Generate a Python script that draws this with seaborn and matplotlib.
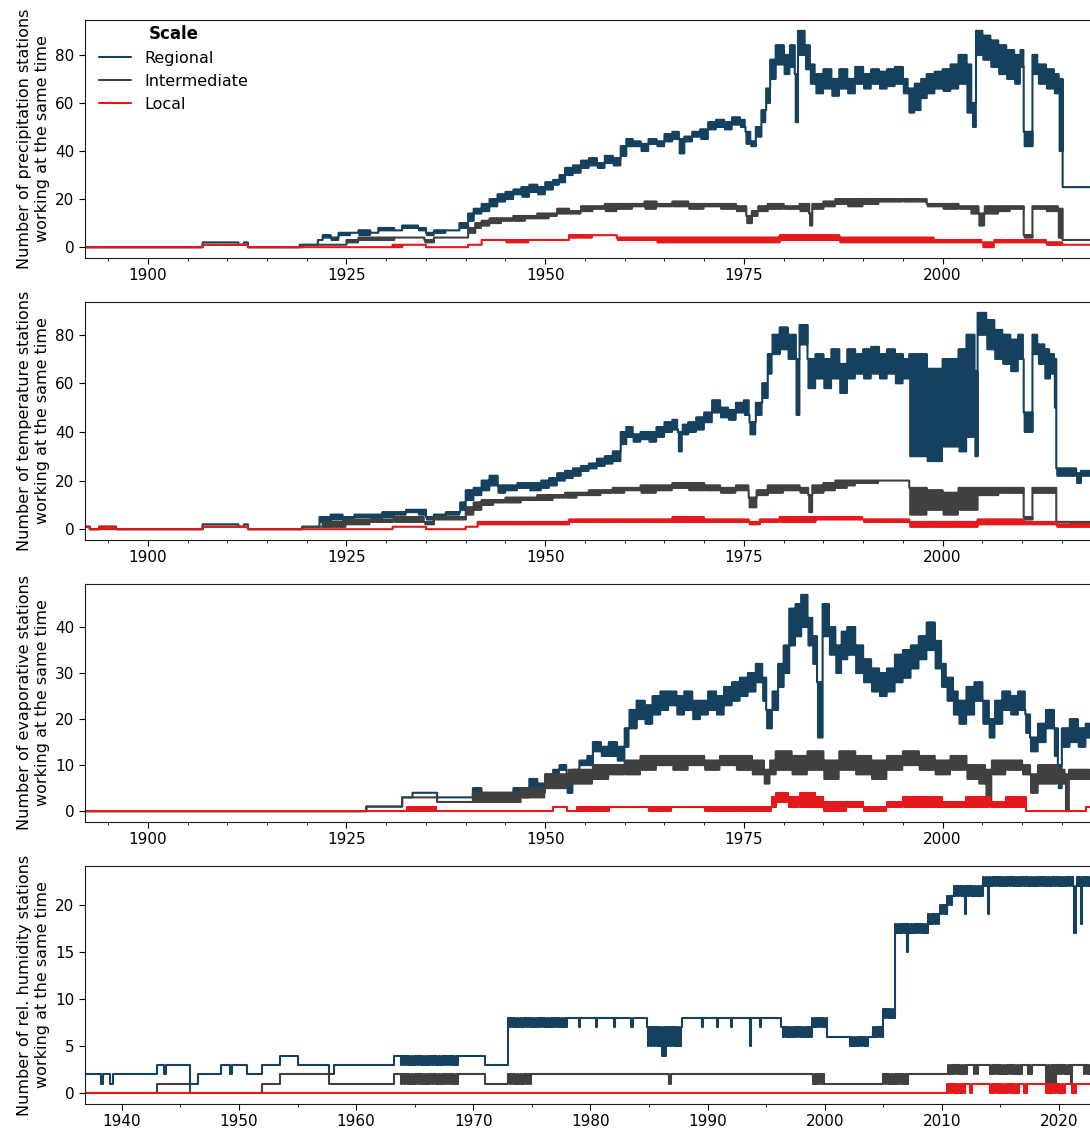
import numpy as np
import pandas as pd
import seaborn as sns
import matplotlib.pyplot as plt
from matplotlib.ticker import MultipleLocator, FormatStrFormatter

# station counts: (start year, low, high) valid until the next start year
# (low != high where the daily count jumps up and down inside the span)
scales = ["Regional", "Intermediate", "Local"]
colors = ["#15415f", "#404040", "#e3191c"]

p_reg = [(1892.1, 0, 0), (1906.9, 2, 2), (1911.4, 1, 1), (1912.1, 2, 2), (1912.6, 0, 0), (1919.1, 1, 1),
         (1921.4, 3, 3), (1922.0, 4, 5), (1923.0, 3, 4), (1924.0, 5, 6), (1925.5, 6, 6), (1926.5, 5, 7),
         (1928.0, 6, 6), (1929.0, 7, 8), (1931.0, 7, 7), (1932.0, 8, 9), (1934.0, 7, 8), (1935.0, 5, 6),
         (1936.0, 6, 7), (1937.5, 7, 7), (1939.2, 8, 10), (1940.3, 11, 14), (1941.0, 14, 16),
         (1942.0, 15, 18), (1943.0, 17, 20), (1944.0, 19, 22), (1945.0, 20, 23), (1946.0, 22, 24),
         (1947.0, 21, 25), (1948.0, 23, 26), (1949.0, 22, 25), (1950.0, 24, 27), (1951.0, 26, 28),
         (1951.8, 27, 30), (1952.5, 30, 33), (1953.5, 31, 34), (1954.5, 33, 36), (1955.5, 34, 37),
         (1956.5, 33, 35), (1957.5, 35, 38), (1958.5, 34, 37), (1959.5, 38, 42), (1960.2, 42, 45),
         (1961.0, 42, 44), (1962.0, 40, 43), (1963.0, 43, 45), (1964.0, 42, 44), (1965.0, 44, 47),
         (1966.0, 45, 48), (1966.8, 39, 45), (1967.5, 44, 46), (1968.5, 46, 48), (1969.5, 45, 49),
         (1970.5, 49, 52), (1971.5, 50, 53), (1972.5, 49, 52), (1973.5, 51, 54), (1974.5, 50, 53),
         (1975.2, 43, 48), (1975.8, 42, 44), (1976.5, 46, 50), (1977.2, 52, 57), (1977.8, 60, 66),
         (1978.3, 70, 78), (1979.0, 76, 84), (1980.0, 72, 80), (1980.8, 75, 84), (1981.4, 52, 72),
         (1981.8, 80, 90), (1982.7, 74, 84), (1983.3, 68, 76), (1984.0, 64, 72), (1985.0, 66, 74),
         (1986.0, 63, 70), (1987.0, 66, 74), (1988.0, 64, 70), (1989.0, 68, 75), (1990.0, 66, 72),
         (1991.0, 68, 74), (1992.0, 66, 73), (1993.0, 67, 74), (1994.0, 68, 75), (1995.0, 64, 70),
         (1995.7, 56, 66), (1996.5, 57, 68), (1997.3, 62, 70), (1998.0, 64, 72), (1999.0, 66, 73),
         (2000.0, 65, 74), (2001.0, 66, 76), (2002.0, 68, 80), (2003.0, 56, 76), (2003.7, 50, 60),
         (2004.2, 80, 90), (2005.0, 78, 88), (2006.0, 75, 86), (2007.0, 72, 84), (2008.0, 70, 82),
         (2009.0, 68, 80), (2009.8, 75, 82), (2010.2, 42, 48), (2011.3, 72, 80), (2012.0, 68, 76),
         (2013.0, 66, 74), (2014.0, 64, 72), (2014.6, 40, 70), (2015.1, 25, 25)]
p_inter = [(1892.1, 0, 0), (1906.9, 1, 1), (1912.6, 0, 0), (1919.5, 1, 1), (1925.0, 2, 3), (1926.5, 3, 4),
           (1931.0, 4, 4), (1934.8, 2, 3), (1936.0, 4, 4), (1940.3, 6, 8), (1941.2, 8, 10), (1942.0, 9, 11),
           (1943.0, 10, 12), (1944.5, 11, 12), (1946.0, 11, 13), (1947.5, 12, 13), (1949.0, 12, 14),
           (1950.5, 13, 14), (1951.5, 14, 16), (1953.0, 14, 15), (1954.5, 15, 17), (1956.0, 16, 17),
           (1957.5, 15, 18), (1959.0, 16, 18), (1961.0, 17, 18), (1962.5, 16, 19), (1964.0, 17, 18),
           (1966.0, 17, 19), (1968.0, 16, 18), (1970.0, 17, 18), (1972.0, 16, 18), (1974.0, 15, 17),
           (1975.3, 10, 13), (1976.0, 13, 15), (1976.8, 15, 17), (1978.0, 16, 18), (1980.0, 16, 17),
           (1982.0, 15, 18), (1983.2, 9, 14), (1983.6, 16, 18), (1985.0, 17, 19), (1986.5, 18, 20),
           (1988.0, 17, 20), (1990.0, 18, 20), (1992.0, 19, 20), (1995.0, 19, 20), (1998.0, 17, 18),
           (2000.0, 16, 18), (2002.0, 16, 17), (2003.5, 14, 17), (2004.5, 9, 14), (2005.3, 14, 17),
           (2007.0, 15, 17), (2008.5, 16, 17), (2010.2, 4, 5), (2011.3, 16, 17), (2013.0, 15, 17),
           (2014.5, 4, 16), (2015.1, 3, 3)]
p_local = [(1892.1, 0, 0), (1906.9, 1, 1), (1912.6, 0, 0), (1930.8, 0, 1), (1932.0, 1, 1), (1935.0, 0, 0),
           (1940.3, 1, 1), (1942.0, 3, 3), (1945.0, 2, 3), (1948.0, 3, 3), (1953.0, 4, 5), (1956.0, 5, 5),
           (1959.0, 3, 4), (1964.0, 2, 4), (1970.0, 2, 4), (1979.5, 3, 5), (1987.0, 2, 4), (1999.0, 2, 3),
           (2005.0, 0, 2), (2006.5, 2, 3), (2013.0, 1, 2), (2015.1, 1, 1)]

t_reg = [(1892.1, 1, 1), (1892.7, 0, 0), (1893.9, 1, 1), (1896.0, 0, 0), (1906.9, 2, 2), (1911.4, 1, 1),
         (1912.1, 2, 2), (1912.6, 0, 0), (1919.4, 1, 1), (1921.6, 3, 5), (1923.0, 4, 6), (1924.5, 3, 5),
         (1926.0, 5, 6), (1928.0, 4, 6), (1929.5, 5, 7), (1931.0, 6, 7), (1932.5, 7, 8), (1934.0, 6, 8),
         (1935.0, 4, 5), (1936.0, 5, 6), (1937.5, 6, 7), (1939.3, 8, 11), (1940.0, 12, 16), (1941.0, 14, 17),
         (1942.0, 16, 20), (1943.0, 18, 22), (1944.0, 15, 18), (1945.0, 16, 18), (1946.5, 17, 19),
         (1948.0, 16, 19), (1949.5, 17, 20), (1950.5, 18, 21), (1951.5, 20, 23), (1952.5, 21, 24),
         (1953.5, 22, 25), (1954.5, 24, 26), (1955.5, 25, 27), (1956.5, 26, 29), (1957.5, 27, 30),
         (1958.5, 28, 32), (1959.5, 35, 40), (1960.2, 38, 42), (1961.0, 36, 39), (1962.0, 37, 40),
         (1963.0, 36, 40), (1964.0, 38, 42), (1965.0, 40, 44), (1966.0, 41, 45), (1966.7, 32, 40),
         (1967.3, 39, 43), (1968.0, 40, 44), (1969.0, 41, 46), (1970.0, 44, 48), (1971.0, 48, 53),
         (1972.0, 46, 50), (1973.0, 45, 49), (1974.0, 48, 52), (1975.0, 47, 53), (1975.7, 39, 44),
         (1976.5, 47, 52), (1977.3, 54, 60), (1978.0, 64, 72), (1978.6, 72, 80), (1979.5, 74, 83),
         (1980.5, 70, 80), (1981.5, 47, 70), (1982.0, 76, 84), (1983.0, 58, 70), (1984.0, 62, 72),
         (1985.0, 58, 70), (1986.0, 62, 74), (1987.0, 56, 68), (1988.0, 62, 74), (1989.0, 64, 72),
         (1990.0, 62, 74), (1991.0, 64, 75), (1992.0, 62, 72), (1993.0, 64, 74), (1994.0, 60, 72),
         (1995.0, 62, 70), (1995.8, 30, 72), (1998.0, 28, 66), (2000.0, 34, 70), (2002.0, 32, 74),
         (2003.0, 38, 80), (2004.0, 30, 65), (2004.4, 80, 89), (2005.5, 74, 86), (2006.5, 70, 82),
         (2007.5, 68, 80), (2008.5, 65, 78), (2009.5, 70, 80), (2010.2, 40, 48), (2011.3, 72, 80),
         (2012.0, 68, 76), (2012.8, 62, 74), (2013.5, 64, 72), (2014.0, 50, 70), (2014.3, 22, 25),
         (2016.8, 19, 23), (2017.4, 22, 24)]
t_inter = [(1892.1, 1, 1), (1892.7, 0, 0), (1893.9, 1, 1), (1896.0, 0, 0), (1906.9, 1, 1), (1912.6, 0, 0),
           (1919.5, 1, 1), (1922.0, 1, 3), (1925.0, 2, 4), (1928.0, 3, 4), (1931.0, 3, 5), (1934.8, 2, 3),
           (1936.0, 4, 5), (1940.0, 6, 9), (1941.0, 8, 11), (1942.0, 10, 12), (1943.5, 11, 12),
           (1945.0, 11, 13), (1947.0, 12, 13), (1949.0, 12, 14), (1951.0, 13, 14), (1952.5, 13, 15),
           (1954.0, 14, 15), (1955.5, 14, 16), (1957.0, 15, 16), (1958.5, 15, 17), (1960.0, 16, 17),
           (1962.0, 15, 18), (1964.0, 16, 18), (1966.0, 17, 19), (1968.0, 16, 19), (1970.0, 16, 18),
           (1972.0, 15, 17), (1974.0, 16, 18), (1975.6, 9, 13), (1976.6, 14, 16), (1978.0, 15, 18),
           (1980.0, 16, 18), (1982.0, 15, 17), (1983.1, 7, 14), (1983.6, 15, 18), (1985.0, 16, 19),
           (1986.5, 17, 20), (1988.0, 18, 20), (1989.0, 19, 20), (1992.0, 20, 20), (1995.8, 6, 17),
           (1998.0, 8, 16), (2000.0, 6, 15), (2002.0, 8, 17), (2004.4, 14, 17), (2007.0, 15, 17),
           (2010.2, 4, 5), (2011.3, 15, 17), (2014.3, 3, 3), (2016.0, 2, 3)]
t_local = [(1892.1, 1, 1), (1892.7, 0, 0), (1893.9, 0, 1), (1896.0, 0, 0), (1906.9, 1, 1), (1912.6, 0, 0),
           (1930.8, 1, 1), (1935.0, 0, 0), (1940.0, 1, 1), (1941.5, 2, 3), (1953.0, 3, 4), (1966.0, 3, 5),
           (1970.0, 3, 4), (1975.6, 2, 3), (1977.0, 3, 4), (1979.5, 3, 5), (1984.0, 4, 5), (1990.0, 3, 4),
           (1995.8, 1, 3), (2004.4, 2, 4), (2010.2, 2, 3), (2014.3, 1, 2)]

e_reg = [(1892.1, 0, 0), (1927.5, 1, 1), (1932.0, 3, 3), (1933.3, 4, 4), (1936.4, 3, 3), (1940.9, 4, 5),
         (1942.0, 3, 4), (1943.5, 2, 4), (1945.0, 3, 4), (1946.0, 4, 5), (1947.0, 3, 5), (1948.0, 5, 7),
         (1949.0, 4, 6), (1950.0, 6, 8), (1951.0, 7, 9), (1951.8, 9, 10), (1952.7, 4, 6), (1953.5, 7, 9),
         (1954.3, 10, 11), (1955.3, 10, 12), (1956.0, 13, 15), (1957.0, 12, 14), (1958.0, 12, 15),
         (1959.0, 11, 14), (1960.0, 14, 18), (1960.6, 18, 22), (1961.5, 20, 24), (1962.5, 19, 23),
         (1963.5, 21, 25), (1964.5, 22, 26), (1965.5, 23, 26), (1966.5, 21, 25), (1967.5, 22, 26),
         (1968.5, 20, 24), (1969.5, 21, 24), (1970.5, 22, 26), (1971.5, 21, 25), (1972.5, 23, 27),
         (1973.5, 24, 28), (1974.5, 25, 29), (1975.5, 26, 30), (1976.5, 28, 32), (1977.3, 24, 29),
         (1977.8, 18, 22), (1978.6, 22, 26), (1979.3, 27, 32), (1980.0, 30, 36), (1980.7, 36, 44),
         (1981.5, 38, 45), (1982.2, 40, 47), (1983.0, 36, 42), (1983.6, 32, 38), (1984.2, 16, 28),
         (1984.9, 38, 45), (1985.7, 34, 40), (1986.5, 30, 36), (1987.3, 33, 39), (1988.0, 34, 40),
         (1989.0, 30, 36), (1990.0, 28, 33), (1991.0, 26, 31), (1992.0, 25, 30), (1993.0, 26, 31),
         (1994.0, 28, 34), (1995.0, 29, 35), (1996.0, 31, 36), (1997.0, 33, 38), (1998.0, 35, 41),
         (1999.0, 31, 37), (1999.8, 27, 32), (2000.5, 24, 29), (2001.3, 21, 26), (2002.0, 19, 24),
         (2003.0, 21, 27), (2004.0, 24, 28), (2005.0, 19, 24), (2005.8, 16, 20), (2006.6, 19, 24),
         (2007.5, 22, 26), (2008.5, 21, 25), (2009.5, 22, 26), (2010.4, 17, 21), (2011.0, 13, 16),
         (2012.0, 15, 19), (2013.0, 18, 22), (2014.0, 12, 18), (2014.5, 5, 10), (2015.0, 14, 18),
         (2016.0, 15, 20), (2017.0, 14, 18), (2018.0, 16, 19)]
e_inter = [(1892.1, 0, 0), (1927.5, 1, 1), (1932.0, 3, 3), (1936.4, 2, 2), (1940.9, 2, 4), (1947.0, 3, 5),
           (1950.0, 5, 8), (1953.0, 6, 9), (1956.0, 7, 10), (1958.0, 8, 10), (1960.0, 8, 11), (1962.0, 9, 12),
           (1964.0, 10, 12), (1966.0, 9, 12), (1968.0, 10, 12), (1970.0, 9, 11), (1972.0, 10, 12),
           (1974.0, 9, 12), (1976.0, 8, 11), (1977.5, 6, 9), (1978.3, 8, 11), (1979.0, 9, 13),
           (1981.0, 8, 12), (1983.0, 9, 13), (1985.0, 7, 11), (1987.0, 9, 13), (1989.0, 8, 12),
           (1991.0, 7, 11), (1993.0, 9, 12), (1995.0, 10, 13), (1997.0, 9, 12), (1999.0, 8, 11),
           (2001.0, 9, 12), (2003.0, 7, 10), (2004.5, 6, 10), (2005.4, 2, 9), (2006.2, 8, 11),
           (2008.0, 9, 11), (2010.0, 8, 10), (2011.0, 4, 8), (2012.0, 6, 10), (2014.5, 6, 9),
           (2015.4, 0, 8), (2015.9, 7, 9)]
e_local = [(1892.1, 0, 0), (1932.6, 0, 1), (1936.4, 0, 0), (1951.0, 1, 1), (1952.7, 0, 0), (1954.0, 0, 1),
           (1958.0, 1, 1), (1963.0, 0, 1), (1966.0, 1, 1), (1970.0, 0, 1), (1978.5, 1, 3), (1979.0, 2, 4),
           (1980.5, 1, 3), (1982.0, 1, 4), (1984.0, 1, 3), (1985.0, 0, 2), (1988.0, 1, 2), (1990.0, 0, 1),
           (1993.0, 1, 2), (1995.0, 1, 3), (2000.0, 1, 2), (2003.0, 1, 3), (2006.0, 1, 2), (2008.0, 1, 3),
           (2010.5, 0, 0), (2018.0, 1, 1)]

h_reg = [(1936.85, 2, 2), (1938.2, 1, 1), (1938.4, 2, 2), (1939.0, 1, 1), (1939.2, 2, 2), (1943.0, 3, 3),
         (1943.6, 2, 2), (1943.8, 3, 3), (1945.8, 1, 1), (1946.5, 2, 2), (1948.5, 3, 3), (1949.2, 2, 2),
         (1949.4, 3, 3), (1950.7, 2, 2), (1952.0, 3, 3), (1953.5, 4, 4), (1955.0, 3, 3), (1957.7, 2, 2),
         (1958.1, 3, 3), (1963.2, 4, 4), (1963.7, 3, 4), (1968.7, 4, 4), (1971.0, 3, 3), (1973.0, 7, 8),
         (1978.0, 8, 8), (1979.0, 7, 7), (1979.1, 8, 8), (1980.5, 7, 7), (1980.6, 8, 8), (1982.0, 7, 7),
         (1982.1, 8, 8), (1983.5, 7, 7), (1983.6, 8, 8), (1984.8, 5, 7), (1986.0, 4, 7), (1986.5, 5, 7),
         (1987.8, 8, 8), (1989.5, 7, 7), (1989.6, 8, 8), (1990.8, 7, 7), (1990.9, 8, 8), (1992.0, 7, 7),
         (1992.1, 8, 8), (1993.6, 5, 5), (1993.7, 8, 8), (1994.5, 7, 7), (1994.6, 8, 8), (1996.3, 6, 7),
         (1998.9, 7, 8), (2000.2, 6, 6), (2002.0, 5, 6), (2003.8, 6, 6), (2004.1, 6, 7), (2005.0, 8, 9),
         (2006.0, 17, 18), (2007.0, 15, 15), (2007.1, 17, 18), (2008.8, 18, 19), (2009.8, 19, 20),
         (2010.4, 20, 21), (2011.0, 21, 22), (2012.0, 19, 19), (2012.1, 21, 22), (2013.5, 22, 23),
         (2013.9, 19, 19), (2014.0, 22, 23), (2021.2, 17, 22), (2021.5, 22, 23), (2021.8, 18, 22),
         (2022.0, 22, 23)]
h_inter = [(1936.85, 0, 0), (1943.0, 1, 1), (1945.8, 0, 0), (1952.0, 1, 1), (1953.5, 2, 2), (1957.7, 1, 1),
           (1963.2, 2, 2), (1963.7, 1, 2), (1968.7, 2, 2), (1971.0, 1, 1), (1973.0, 1, 2), (1975.0, 2, 2),
           (1986.7, 1, 1), (1986.9, 2, 2), (1998.9, 1, 2), (2000.1, 1, 1), (2005.0, 1, 2), (2007.1, 2, 2),
           (2010.5, 2, 3), (2012.3, 3, 3), (2012.6, 2, 3), (2013.1, 3, 3), (2014.0, 2, 3), (2016.8, 3, 3),
           (2017.2, 2, 3), (2017.8, 3, 3), (2018.8, 1, 3), (2019.8, 2, 3), (2020.9, 1, 3), (2021.2, 3, 3),
           (2022.0, 2, 3)]
h_local = [(1936.85, 0, 0), (2010.4, 0, 1), (2012.0, 1, 1), (2012.3, 0, 1), (2012.6, 1, 1), (2014.0, 0, 1),
           (2016.6, 1, 1), (2016.9, 0, 1), (2017.3, 1, 1), (2018.8, 0, 1), (2020.6, 1, 1), (2021.0, 0, 1),
           (2021.6, 1, 1)]

ylabels = ["Number of precipitation stations\nworking at the same time",
           "Number of temperature stations\nworking at the same time",
           "Number of evaporative stations\nworking at the same time",
           "Number of rel. humidity stations\nworking at the same time"]


def expand(rows, end, step=0.12):
    # turn the (year, low, high) spans into one step trace
    xs, ys = [], []
    for i, (t0, lo, hi) in enumerate(rows):
        t1 = rows[i + 1][0] if i + 1 < len(rows) else end
        if lo == hi:
            xs.append(t0)
            ys.append(lo)
        else:
            for k, t in enumerate(np.arange(t0, t1, step)):
                xs.append(t)
                ys.append(hi if k % 2 == 0 else lo)
    xs.append(end)
    ys.append(rows[-1][1])
    return xs, ys


def frame(series, end):
    parts = []
    for name, rows in zip(scales, series):
        xs, ys = expand(rows, end)
        parts.append(pd.DataFrame({"year": xs, "stations": ys, "Scale": name}))
    return pd.concat(parts, ignore_index=True)


panels = [([p_reg, p_inter, p_local], (1892.1, 2019.8), 25),
          ([t_reg, t_inter, t_local], (1892.1, 2019.8), 25),
          ([e_reg, e_inter, e_local], (1892.1, 2019.8), 25),
          ([h_reg, h_inter, h_local], (1936.85, 2023.5), 10)]

sns.set_style("ticks", {"text.color": "black", "axes.labelcolor": "black", "xtick.color": "black",
                        "ytick.color": "black", "axes.edgecolor": "0.1"})
fig, axes = plt.subplots(4, 1, figsize=(10.9, 11.33), dpi=100)
fig.subplots_adjust(left=85 / 1090, right=1100 / 1090, top=1 - 20 / 1133, bottom=1 - 1104 / 1133,
                    hspace=44 / 238)

for i, (ax, (series, xlim, major)) in enumerate(zip(axes, panels)):
    df = frame(series, xlim[1])
    sns.lineplot(data=df, x="year", y="stations", hue="Scale", hue_order=scales, palette=colors,
                 estimator=None, drawstyle="steps-post", linewidth=1.5, ax=ax, legend=(i == 0))
    ax.set_xlim(*xlim)
    ax.xaxis.set_major_locator(MultipleLocator(major))
    ax.xaxis.set_minor_locator(MultipleLocator(5))
    ax.xaxis.set_major_formatter(FormatStrFormatter("%d"))
    ax.set_xlabel("")
    ax.set_ylabel(ylabels[i], fontsize=11.5)
    ax.tick_params(labelsize=11, length=4)
    ax.tick_params(which="minor", length=2.5)

sns.move_legend(axes[0], "upper left", frameon=False, title_fontweight="bold", title_fontsize=12,
                fontsize=11.5, labelspacing=0.5, bbox_to_anchor=(0, 1.04))
fig.align_ylabels(axes)

fig.savefig("out.png", dpi=100)
